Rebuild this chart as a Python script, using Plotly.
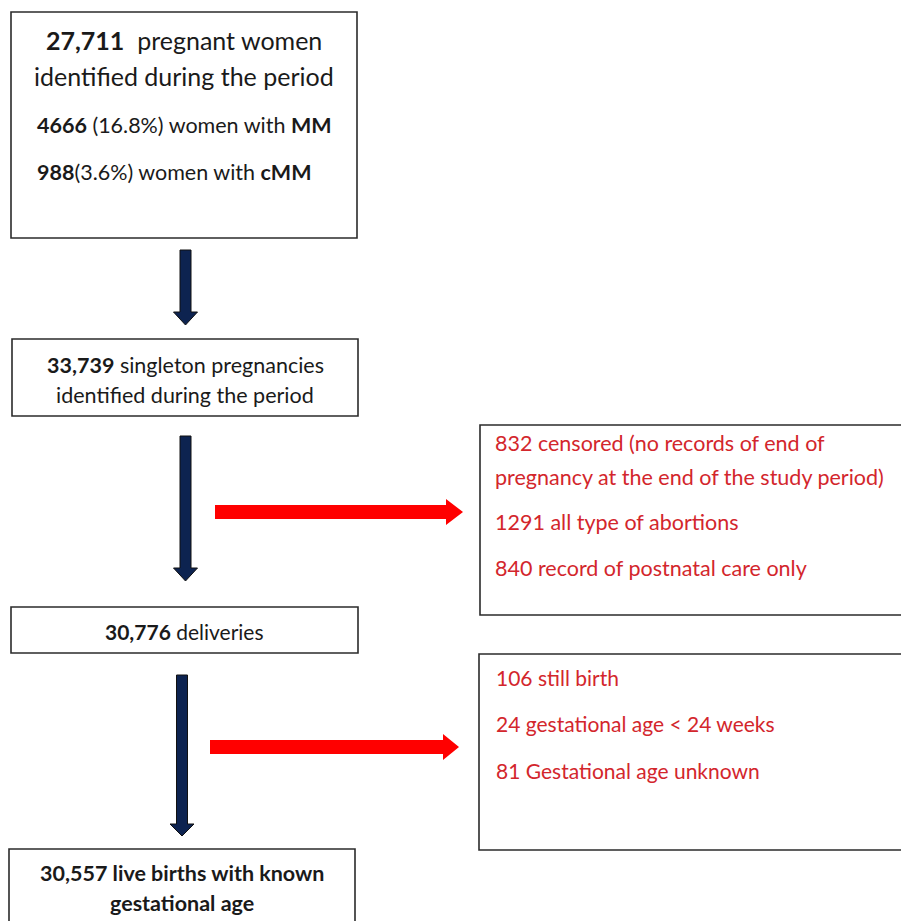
import plotly.graph_objects as go

# ---- data ----
pregnant_women = "27,711"
mm_count, mm_pct = "4666", "16.8%"
cmm_count, cmm_pct = "988", "3.6%"
singleton = "33,739"
deliveries = "30,776"
live_births = "30,557"
excl1_counts = ["832", "", "1291", "840"]
excl1_labels = ["censored (no records of end of",
                "pregnancy at the end of the study period)",
                "all type of abortions", "record of postnatal care only"]
excl2_counts = ["106", "24", "81"]
excl2_labels = ["still birth", "gestational age < 24 weeks", "Gestational age unknown"]

W, H = 901, 921
FONT = "Lato"
NAVY = "#0D2350"
RED = "#FF0000"
RTXT = "#D3262C"
EDGE = "#2b2b2b"

fig = go.Figure()
shapes = []
ann = []

def box(x0, y0, x1, y1):
    shapes.append(dict(type="rect", x0=x0, y0=y0, x1=x1, y1=y1, xref="x", yref="y",
                       line=dict(color=EDGE, width=1.6), fillcolor="white", layer="below"))

def down_arrow(cx, y0, y1, tip, sw=5.5, hw=12):
    p = (f"M {cx-sw} {y0} L {cx+sw} {y0} L {cx+sw} {y1} L {cx+hw} {y1} "
         f"L {cx} {tip} L {cx-hw} {y1} L {cx-sw} {y1} Z")
    shapes.append(dict(type="path", path=p, xref="x", yref="y",
                       fillcolor=NAVY, line=dict(color="#111", width=1)))

def right_arrow(cy, x0, x1, tip, sh=7, hh=13):
    p = (f"M {x0} {cy-sh} L {x1} {cy-sh} L {x1} {cy-hh} L {tip} {cy} "
         f"L {x1} {cy+hh} L {x1} {cy+sh} L {x0} {cy+sh} Z")
    shapes.append(dict(type="path", path=p, xref="x", yref="y",
                       fillcolor=RED, line=dict(color=RED, width=0)))

def text(x, y, s, size, color="#1a1a1a", anchor="center"):
    ann.append(dict(x=x, y=y, xref="x", yref="y", text=s, showarrow=False,
                    xanchor=anchor, yanchor="middle",
                    font=dict(family=FONT, size=size, color=color)))

# boxes
box(11, 12, 357, 238)
box(12, 339, 358, 416)
box(11, 607, 358, 653)
box(9, 849, 355, 935)
box(480, 425, 905, 615)
box(479, 654, 905, 850)

# arrows
down_arrow(185.5, 250, 312, 325)
down_arrow(185.5, 436, 568, 581)
down_arrow(182, 675, 824, 836)
right_arrow(512, 215, 446, 463)
right_arrow(747, 210, 443, 459)

# box 1 text
text(184, 40, f"<b>{pregnant_women}</b>  pregnant women", 25)
text(184, 76, "identified during the period", 25)
text(35, 125, f"<b>{mm_count}</b> ({mm_pct}) women with <b>MM</b>", 21.5, anchor="left")
text(35, 172, f"<b>{cmm_count}</b>({cmm_pct}) women with <b>cMM</b>", 21.5, anchor="left")

# box 2
text(185, 365, f"<b>{singleton}</b> singleton pregnancies", 21.5)
text(185, 395, "identified during the period", 21.5)

# box 3
text(184, 631, f"<b>{deliveries}</b> deliveries", 21)

# box 4
text(182, 873, f"<b>{live_births} live births with known</b>", 21.5)
text(182, 903, "<b>gestational age</b>", 21.5)

# exclusion box 1
ys1 = [443, 477, 522, 568]
for c, l, y in zip(excl1_counts, excl1_labels, ys1):
    s = f"{c} {l}" if c else l
    text(493, y, s, 21.5, RTXT, "left")

# exclusion box 2
ys2 = [677, 723, 770]
for c, l, y in zip(excl2_counts, excl2_labels, ys2):
    text(494, y, f"{c} {l}", 21, RTXT, "left")

fig.update_layout(
    width=W, height=H, margin=dict(l=0, r=0, t=0, b=0),
    paper_bgcolor="white", plot_bgcolor="white",
    xaxis=dict(range=[0, W], visible=False, fixedrange=True),
    yaxis=dict(range=[H, 0], visible=False, fixedrange=True),
    shapes=shapes, annotations=ann, showlegend=False,
)
fig.write_html("out.html", config={"displayModeBar": False},
               post_script="document.body.style.margin='0px';document.body.style.overflow='hidden';")
